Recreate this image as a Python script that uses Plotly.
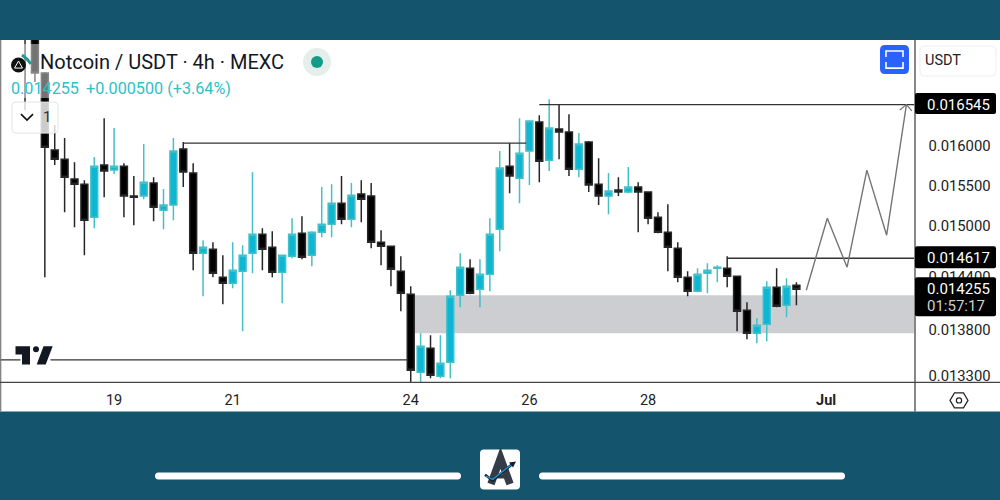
import pandas as pd
import plotly.graph_objects as go

# 4h candles
times = pd.date_range("2024-06-17 12:00", periods=79, freq="4h")
open_ = [0.017713, 0.017570, 0.016971, 0.015949, 0.015833, 0.015580, 0.015517, 0.015109, 0.015757, 0.015694,
         0.015744, 0.015368, 0.015368, 0.015530, 0.015195, 0.015257, 0.015962, 0.015656, 0.014677, 0.014724,
         0.014395, 0.014325, 0.014465, 0.014677, 0.014903, 0.014748, 0.014454, 0.014641, 0.014915, 0.014653,
         0.014927, 0.015024, 0.015281, 0.015084, 0.015393, 0.015368, 0.014807, 0.014760, 0.014465, 0.014199,
         0.013333, 0.013593, 0.013290, 0.013441, 0.014188, 0.014500, 0.014257, 0.014430, 0.014964, 0.015744,
         0.015592, 0.015936, 0.016313, 0.015820, 0.016222, 0.016183, 0.015706, 0.016052, 0.015517, 0.015368,
         0.015443, 0.015418, 0.015480, 0.015418, 0.015109, 0.014927, 0.014736, 0.014395, 0.014234, 0.014442,
         0.014500, 0.014500, 0.014407, 0.014017, 0.013759, 0.013859, 0.014280, 0.014073, 0.014303]
high = [0.017900, 0.017700, 0.016985, 0.016274, 0.016104, 0.015795, 0.015567, 0.015859, 0.016365, 0.016235,
        0.015782, 0.015618, 0.016026, 0.015605, 0.015455, 0.016104, 0.016052, 0.015782, 0.014831, 0.014807,
        0.014653, 0.014807, 0.014772, 0.015668, 0.014976, 0.014940, 0.014653, 0.015097, 0.015121, 0.014940,
        0.015480, 0.015517, 0.015618, 0.015530, 0.015567, 0.015530, 0.014951, 0.014760, 0.014641, 0.014291,
        0.013759, 0.013737, 0.013737, 0.014245, 0.014677, 0.014606, 0.014606, 0.015097, 0.015936, 0.016039,
        0.016365, 0.016339, 0.016404, 0.016618, 0.016552, 0.016417, 0.016170, 0.016065, 0.015846, 0.015656,
        0.015605, 0.015732, 0.015542, 0.015418, 0.015170, 0.015269, 0.014807, 0.014465, 0.014500, 0.014559,
        0.014535, 0.014641, 0.014407, 0.014107, 0.013927, 0.014349, 0.014500, 0.014383, 0.014337]
low = [0.016472, 0.016848, 0.014395, 0.015757, 0.015170, 0.014988, 0.014653, 0.014976, 0.015355, 0.015643,
       0.015109, 0.015012, 0.015330, 0.015060, 0.014964, 0.015072, 0.015480, 0.014477, 0.014176, 0.014395,
       0.014085, 0.014268, 0.013781, 0.014442, 0.014477, 0.014395, 0.014096, 0.014618, 0.014606, 0.014524,
       0.014867, 0.014867, 0.015024, 0.014988, 0.015048, 0.014736, 0.014535, 0.014291, 0.014006, 0.013200,
       0.013200, 0.013269, 0.013269, 0.013269, 0.014051, 0.014199, 0.014051, 0.014234, 0.014700, 0.015405,
       0.015281, 0.015505, 0.015542, 0.015681, 0.015833, 0.015618, 0.015605, 0.015418, 0.015257, 0.015146,
       0.015368, 0.015405, 0.014927, 0.015024, 0.014915, 0.014465, 0.014337, 0.014176, 0.014222, 0.014211,
       0.014337, 0.014280, 0.013781, 0.013692, 0.013648, 0.013670, 0.014051, 0.013938, 0.014073]
close = [0.017499, 0.016971, 0.015987, 0.015833, 0.015605, 0.015517, 0.015072, 0.015744, 0.015681, 0.015744,
         0.015368, 0.015355, 0.015542, 0.015232, 0.015257, 0.015936, 0.015669, 0.014677, 0.014748, 0.014442,
         0.014325, 0.014477, 0.014653, 0.014903, 0.014724, 0.014454, 0.014653, 0.014903, 0.014630, 0.014927,
         0.015024, 0.015281, 0.015084, 0.015380, 0.015330, 0.014807, 0.014760, 0.014489, 0.014211, 0.013355,
         0.013615, 0.013301, 0.013430, 0.014176, 0.014512, 0.014211, 0.014430, 0.014903, 0.015719, 0.015618,
         0.015910, 0.016326, 0.015807, 0.016235, 0.016183, 0.015706, 0.016026, 0.015505, 0.015368, 0.015430,
         0.015418, 0.015480, 0.015418, 0.015097, 0.014927, 0.014748, 0.014395, 0.014234, 0.014430, 0.014477,
         0.014512, 0.014407, 0.014006, 0.013759, 0.013848, 0.014280, 0.014062, 0.014291, 0.014255]

# Drawn levels
level_upper_x = ["2024-06-26 04:00", "2024-07-02 11:46"]
level_upper_y = [0.016545, 0.016545]
level_mid_x = ["2024-06-20 04:00", "2024-06-25 22:45"]
level_mid_y = [0.016039, 0.016039]
level_right_x = ["2024-06-29 08:00", "2024-07-02 11:46"]
level_right_y = [0.014617, 0.014617]
level_low_x = ["2024-06-17 01:52", "2024-06-23 23:00"]
level_low_y = [0.013468, 0.013468]

# Projected path
path_x = ["2024-06-30 16:00", "2024-07-01 00:30", "2024-07-01 08:30", "2024-07-01 16:30", "2024-07-02 00:30",
          "2024-07-02 08:30"]
path_y = [0.014245, 0.015097, 0.014512, 0.015694, 0.014891, 0.016545]
arrow_x = ["2024-07-02 05:48", "2024-07-02 08:30", "2024-07-02 10:42"]
arrow_y = [0.016472, 0.016545, 0.016460]

# Grey zone
zone_x = ["2024-06-24 00:00", "2024-07-02 11:46"]
zone_y = [0.013759, 0.014188]

tick_dates = ["2024-06-19", "2024-06-21", "2024-06-24", "2024-06-26", "2024-06-28", "2024-07-01"]
tick_names = ["19", "21", "24", "26", "28", "<b>Jul</b>"]
price_ticks = [0.0160, 0.0155, 0.0150, 0.0144, 0.0138, 0.0133]
price_names = ["0.016000", "0.015500", "0.015000", "0.014400", "0.013800", "0.013300"]

TEAL_BG = "#14546c"
FONT = "Roboto"


# pixel helpers for the page furniture around the chart
def px(x):
    return x / 1000


def py(y):
    return 1 - y / 497.5


def poly(points, close_path=True):
    d = "M" + " L".join(f"{px(x):.4f},{py(y):.4f}" for x, y in points)
    return d + (" Z" if close_path else "")


def round_rect(x0, y0, x1, y1, r):
    def p(x, y):
        return f"{px(x):.4f},{py(y):.4f}"
    return (f"M{p(x0 + r, y0)} L{p(x1 - r, y0)} Q{p(x1, y0)} {p(x1, y0 + r)} L{p(x1, y1 - r)} "
            f"Q{p(x1, y1)} {p(x1 - r, y1)} L{p(x0 + r, y1)} Q{p(x0, y1)} {p(x0, y1 - r)} "
            f"L{p(x0, y0 + r)} Q{p(x0, y0)} {p(x0 + r, y0)} Z")


def path_shape(d, fill=None, line=None, width=0, layer="above"):
    return dict(type="path", path=d, xref="paper", yref="paper", layer=layer,
                fillcolor=fill if fill else "rgba(0,0,0,0)",
                line=dict(color=line if line else "rgba(0,0,0,0)", width=width))


def rect(x0, y0, x1, y1, fill, layer="above"):
    return dict(type="rect", xref="paper", yref="paper", x0=px(x0), x1=px(x1), y0=py(y0), y1=py(y1),
                fillcolor=fill, line_width=0, layer=layer)


def seg(x0, y0, x1, y1, color, width):
    return dict(type="line", xref="paper", yref="paper", x0=px(x0), x1=px(x1), y0=py(y0), y1=py(y1),
                line=dict(color=color, width=width), layer="above")


def circle(cx, cy, r, fill, line=None, width=0):
    return dict(type="circle", xref="paper", yref="paper", x0=px(cx - r), x1=px(cx + r), y0=py(cy + r),
                y1=py(cy - r), fillcolor=fill, layer="above",
                line=dict(color=line if line else "rgba(0,0,0,0)", width=width))


def label(x, y, text, size, color="#131722", anchor="left", family=FONT):
    return dict(xref="paper", yref="paper", x=px(x), y=py(y), text=text, showarrow=False, xanchor=anchor,
                yanchor="middle", font=dict(family=family, size=size, color=color))


fig = go.Figure()

fig.add_trace(go.Candlestick(
    x=times, open=open_, high=high, low=low, close=close,
    increasing=dict(fillcolor="#0db7d3", line=dict(color="#45bfc8", width=1.5)),
    decreasing=dict(fillcolor="#000000", line=dict(color="#262626", width=1.5)),
    whiskerwidth=0, showlegend=False,
))

for lx, ly in [(level_upper_x, level_upper_y), (level_mid_x, level_mid_y), (level_right_x, level_right_y),
               (level_low_x, level_low_y)]:
    fig.add_trace(go.Scatter(x=lx, y=ly, mode="lines", line=dict(color="#333333", width=1.3), showlegend=False))

fig.add_trace(go.Scatter(x=path_x, y=path_y, mode="lines", line=dict(color="#757575", width=1.4), showlegend=False))
fig.add_trace(go.Scatter(x=arrow_x, y=arrow_y, mode="lines", line=dict(color="#757575", width=1.2), showlegend=False))

shapes = [
    rect(0, 40, 1000, 411, "white", layer="below"),
    dict(type="rect", xref="x", yref="y", x0=zone_x[0], x1=zone_x[1], y0=zone_y[0], y1=zone_y[1],
         fillcolor="#cdced2", line_width=0, layer="below"),
    # frame
    seg(0.7, 40, 0.7, 411, "#777777", 1.2),
    seg(915, 40, 915, 411, "#555555", 1.4),
    seg(0, 382, 1000, 382, "#444444", 1.2),
    # wash behind the header and the small button
    rect(10, 44, 290, 98, "rgba(255,255,255,0.45)"),
    path_shape(round_rect(12, 102, 58, 133, 4), "rgba(255,255,255,0.8)", "#e4e4e4", 1),
    # tradingview mark
    rect(20.5, 354, 50.5, 365, "white"),
    path_shape(poly([(15.5, 346), (30, 346), (30, 364), (22, 364), (22, 354), (15.5, 354)]), "#131722"),
    circle(36, 349, 3, "#131722"),
    path_shape(poly([(43.5, 346), (52.7, 346), (45.7, 364), (36.7, 364)]), "#131722"),
    # header icons
    circle(317, 62, 14, "#e4eeeb"),
    circle(317, 62, 6, "#0f9d8a"),
    circle(18.5, 65, 7.5, "#111111"),
    path_shape(poly([(18.5, 61), (22.5, 68), (14.5, 68)]), None, "white", 1),
    path_shape("M" + f"{px(22):.4f},{py(55):.4f} Q{px(28):.4f},{py(59):.4f} {px(31):.4f},{py(64):.4f}", None, "#1f9c93", 3),
    path_shape(round_rect(880, 45, 909, 74, 5), "#2962ff"),
    path_shape(poly([(886, 57), (886, 51), (903, 51), (903, 57)], False), None, "white", 1.6),
    path_shape(poly([(886, 62), (886, 68), (903, 68), (903, 62)], False), None, "white", 1.6),
    path_shape(round_rect(920, 46, 996, 76, 5), "white", "#eeeeee", 1),
    path_shape(poly([(21, 114), (27, 120), (33, 114)], False), None, "#111111", 1.6),
    # price tags
    path_shape(round_rect(915, 93, 996, 114, 2), "#000000"),
    path_shape(round_rect(915, 246, 996, 268, 2), "#000000"),
    path_shape(round_rect(915, 277, 996, 316, 2), "#000000"),
    # settings hexagon
    path_shape(poly([(950, 400), (954.5, 392.5), (963.5, 392.5), (968, 400), (963.5, 407.5), (954.5, 407.5)]),
               None, "#222222", 1.2),
    circle(959, 400, 2.6, "white", "#222222", 1.2),
    # bottom bar
    path_shape(round_rect(155, 472, 461, 479, 3.5), "white"),
    path_shape(round_rect(539, 472, 845, 479, 3.5), "white"),
    path_shape(round_rect(480, 449, 520, 489, 4), "white"),
    # logo: letter strokes, then the little chart line across them
    path_shape(poly([(491, 483.5), (500.5, 457.5), (510, 483.5)], False), None, "#343c48", 7.5),
    seg(495, 476, 506, 476, "#343c48", 4),
    path_shape(poly([(485, 474.3), (492.7, 480), (507, 468), (513, 463)], False), None, "#12202c", 2.6),
    path_shape(poly([(486, 475.5), (492.7, 479), (507, 467.5), (512, 464)], False), None, "#1ea0dc", 1.2),
    path_shape(poly([(516, 461), (509, 462), (513, 467)]), "#12202c"),
]

annotations = [
    label(38, 62, "Notcoin / USDT · 4h · MEXC", 20),
    label(8.5, 88, "0.014255", 16.2, "#2fc0c8"),
    label(84, 88, "+0.000500 (+3.64%)", 16.2, "#2fc0c8"),
    label(47, 117, "1", 15, "#333333", "center"),
    label(922.5, 60, "USDT", 14.5, "#222222"),
    label(925, 104.5, "0.016545", 15, "white"),
    label(925, 258, "0.014617", 15, "white"),
    label(925, 289, "0.014255", 15, "white"),
    label(925, 306, "01:57:17", 15, "#d0d0d0"),
]

fig.update_layout(
    width=1000, height=500,
    margin=dict(l=0, r=0, t=0, b=0),
    paper_bgcolor=TEAL_BG, plot_bgcolor="white",
    font=dict(family=FONT, size=14, color="#222222"),
    boxgap=0.3, boxgroupgap=0,
    showlegend=False,
    shapes=shapes, annotations=annotations,
    xaxis=dict(
        type="date", domain=[0, 0.9145], range=["2024-06-17 01:52", "2024-07-02 11:46"],
        rangeslider=dict(visible=False), showgrid=False, zeroline=False, showline=False,
        tickmode="array", tickvals=tick_dates, ticktext=tick_names, tickangle=0,
        ticks="outside", ticklen=4, tickcolor="rgba(0,0,0,0)", tickfont=dict(size=14.5, color="#222222"),
    ),
    yaxis=dict(
        type="log", domain=[0.2322, 0.9196], range=[-1.87860, -1.75873], side="right",
        showgrid=False, zeroline=False, showline=False,
        tickmode="array", tickvals=price_ticks, ticktext=price_names,
        ticks="outside", ticklen=10, tickcolor="rgba(0,0,0,0)", tickfont=dict(size=14.8, color="#222222"),
    ),
)

# the page's default body margin would shift the chart by 8px
fig.write_html("out.html", config={"displayModeBar": False},
               post_script="document.body.style.margin = '0'; document.documentElement.style.overflow = 'hidden';")
